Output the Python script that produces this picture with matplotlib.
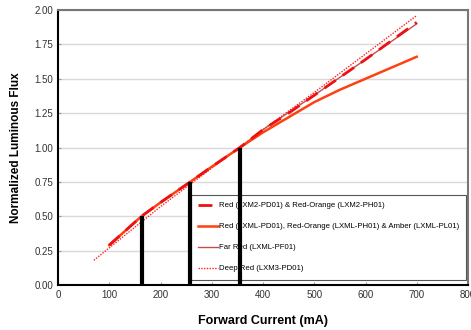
import matplotlib.pyplot as plt

# data
cur_dash = [100, 163, 200, 258, 300, 355, 400, 450, 500, 600, 700]
flux_dash = [0.29, 0.50, 0.60, 0.75, 0.86, 1.00, 1.13, 1.25, 1.38, 1.64, 1.91]

cur_lxml = [100, 163, 200, 258, 300, 355, 400, 450, 500, 550, 600, 650, 700]
flux_lxml = [0.29, 0.50, 0.60, 0.75, 0.86, 1.00, 1.11, 1.22, 1.33, 1.42, 1.50, 1.58, 1.66]

cur_far = [100, 163, 200, 258, 300, 355, 400, 500, 600, 700]
flux_far = [0.29, 0.50, 0.60, 0.75, 0.86, 1.00, 1.13, 1.38, 1.64, 1.90]

cur_deep = [70, 100, 200, 300, 400, 500, 600, 700]
flux_deep = [0.18, 0.27, 0.57, 0.85, 1.13, 1.40, 1.68, 1.96]

bar_x = [163, 258, 355]
bar_y = [0.5, 0.75, 1.0]

labels = ['Red (LXM2-PD01) & Red-Orange (LXM2-PH01)',
          'Red (LXML-PD01), Red-Orange (LXML-PH01) & Amber (LXML-PL01)',
          'Far Red (LXML-PF01)',
          'Deep Red (LXM3-PD01)']

plt.rcParams['font.family'] = ['Liberation Sans', 'DejaVu Sans']
fig = plt.figure(figsize=(4.71, 3.30), dpi=100)
ax = fig.add_axes([58/471, 45/330, 410/471, 275/330])

ax.plot(cur_deep, flux_deep, color='#ff2020', lw=1.0, ls=(0, (1, 1)), label=labels[3], zorder=3)
ax.plot(cur_far, flux_far, color='#c0504d', lw=1.0, label=labels[2], zorder=3)
ax.plot(cur_lxml, flux_lxml, color='#ff4010', lw=1.8, label=labels[1], zorder=3)
ax.plot(cur_dash, flux_dash, color='#ee1111', lw=2.0, ls=(0, (5, 3)), label=labels[0], zorder=4)

for x, y in zip(bar_x, bar_y):
    ax.plot([x, x], [0, y], color='black', lw=3, solid_capstyle='butt', zorder=10)

ax.set_xlim(0, 800)
ax.set_ylim(0, 2.0)
ax.set_xticks(range(0, 801, 100))
ax.set_yticks([0, 0.25, 0.5, 0.75, 1.0, 1.25, 1.5, 1.75, 2.0])
ax.set_yticklabels(['%.2f' % v for v in ax.get_yticks()])
ax.yaxis.grid(True, color='#d9d9d9', lw=1)
ax.set_axisbelow(True)
ax.tick_params(direction='in', length=2, color='#999999', labelsize=7, colors='#333333')

for s in ['left', 'bottom']:
    ax.spines[s].set_color('black')
    ax.spines[s].set_linewidth(1.5)
for s in ['top', 'right']:
    ax.spines[s].set_color('#777777')
    ax.spines[s].set_linewidth(1.5)

ax.set_xlabel('Forward Current (mA)', fontsize=9, fontweight='bold', labelpad=11)
ax.set_ylabel('Normalized Luminous Flux', fontsize=8.5, fontweight='bold', labelpad=9)

h, l = ax.get_legend_handles_labels()
order = [3, 2, 1, 0]
leg = ax.legend([h[i] for i in order], [l[i] for i in order], loc='lower right',
                bbox_to_anchor=(0.995, 0.02), fontsize=5.6, fancybox=False,
                edgecolor='#555555', framealpha=1, handlelength=2.6, handletextpad=0.1,
                labelspacing=1.75, borderpad=0.9, borderaxespad=0)
leg.get_frame().set_linewidth(0.8)
leg.set_zorder(5)

fig.savefig('out.png', dpi=100)
